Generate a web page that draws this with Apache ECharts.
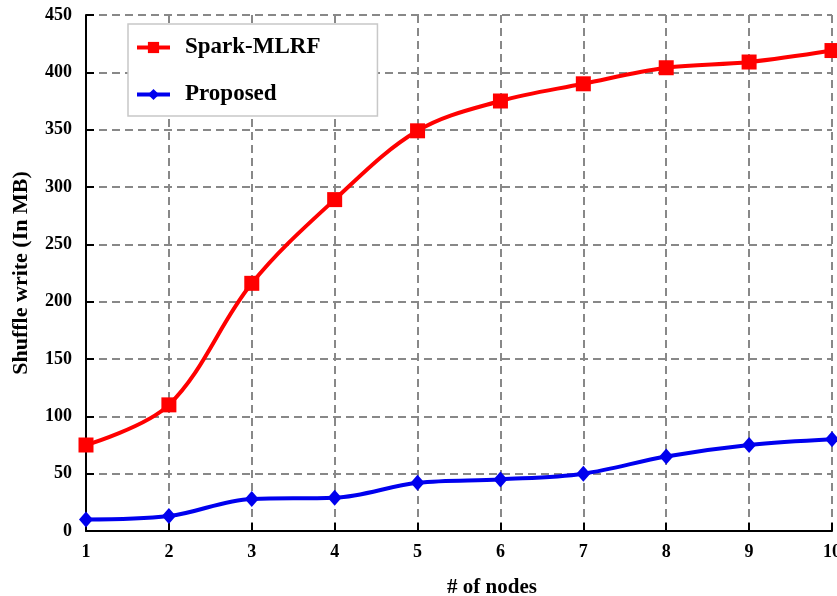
<!DOCTYPE html>
<html><head><meta charset="utf-8">
<script src="https://cdn.jsdelivr.net/npm/echarts@6/dist/echarts.min.js"></script>
<style>html,body{margin:0;padding:0;background:#fff}#c{width:837px;height:596px}</style>
</head><body><div id="c"></div>
<script>
const categories = ['1','2','3','4','5','6','7','8','9','10'];
const sparkMLRF = [75, 110, 216, 289, 349, 375, 390, 404, 409, 419];
const proposed = [10, 13, 28, 29, 42, 45, 50, 65, 75, 80];
const seriesNames = ['Spark-MLRF', 'Proposed'];

const font = '"Liberation Serif","Times New Roman",serif';
const chart = echarts.init(document.getElementById('c'), null, {renderer:'canvas'});
chart.setOption({
  animation: false,
  grid: {left: 86, right: 5, top: 15, bottom: 65, containLabel: false, outerBoundsMode: 'none'},
  legend: {
    left: 128, top: 24,
    orient: 'vertical', itemGap: 24,
    padding: [12, 57, 10, 7],
    backgroundColor: '#fff', borderColor: '#c8c8c8', borderWidth: 1.5,
    itemWidth: 33, itemHeight: 14,
    itemStyle: {borderWidth: 0},
    lineStyle: {width: 4},
    textStyle: {fontFamily: font, fontWeight: 'bold', fontSize: 23, color: '#000', padding: [0, 0, 0, 10]},
    data: seriesNames
  },
  xAxis: {
    type: 'category', data: categories, boundaryGap: false,
    name: '# of nodes', nameLocation: 'middle', nameGap: 46,
    nameTextStyle: {fontFamily: font, fontWeight: 'bold', fontSize: 21, color: '#000', padding: [0, 0, 0, 66]},
    axisLine: {lineStyle: {color: '#000', width: 2}},
    axisTick: {inside: true, length: 8, lineStyle: {color: '#000', width: 2}},
    axisLabel: {fontFamily: font, fontWeight: 'bold', fontSize: 18, color: '#000', margin: 12},
    splitLine: {show: true, lineStyle: {color: '#888', type: [8, 5], width: 2}}
  },
  yAxis: {
    type: 'value', min: 0, max: 450, interval: 50,
    name: 'Shuffle write (In MB)', nameLocation: 'middle', nameGap: 54,
    nameTextStyle: {fontFamily: font, fontWeight: 'bold', fontSize: 22, color: '#000'},
    axisLine: {show: true, lineStyle: {color: '#000', width: 2}},
    axisTick: {show: true, inside: true, length: 8, lineStyle: {color: '#000', width: 2}},
    axisLabel: {fontFamily: font, fontWeight: 'bold', fontSize: 18, color: '#000', margin: 14},
    splitLine: {show: true, lineStyle: {color: '#888', type: [8, 5], width: 2}}
  },
  series: [
    {name: seriesNames[0], type: 'line', data: sparkMLRF, smooth: 0.35,
     symbol: 'rect', symbolSize: 15, itemStyle: {color: '#f00'},
     lineStyle: {color: '#f00', width: 4}},
    {name: seriesNames[1], type: 'line', data: proposed, smooth: 0.35,
     symbol: 'diamond', symbolSize: [14, 16], itemStyle: {color: '#0000ee'},
     lineStyle: {color: '#0000ee', width: 4}}
  ]
});
</script></body></html>
